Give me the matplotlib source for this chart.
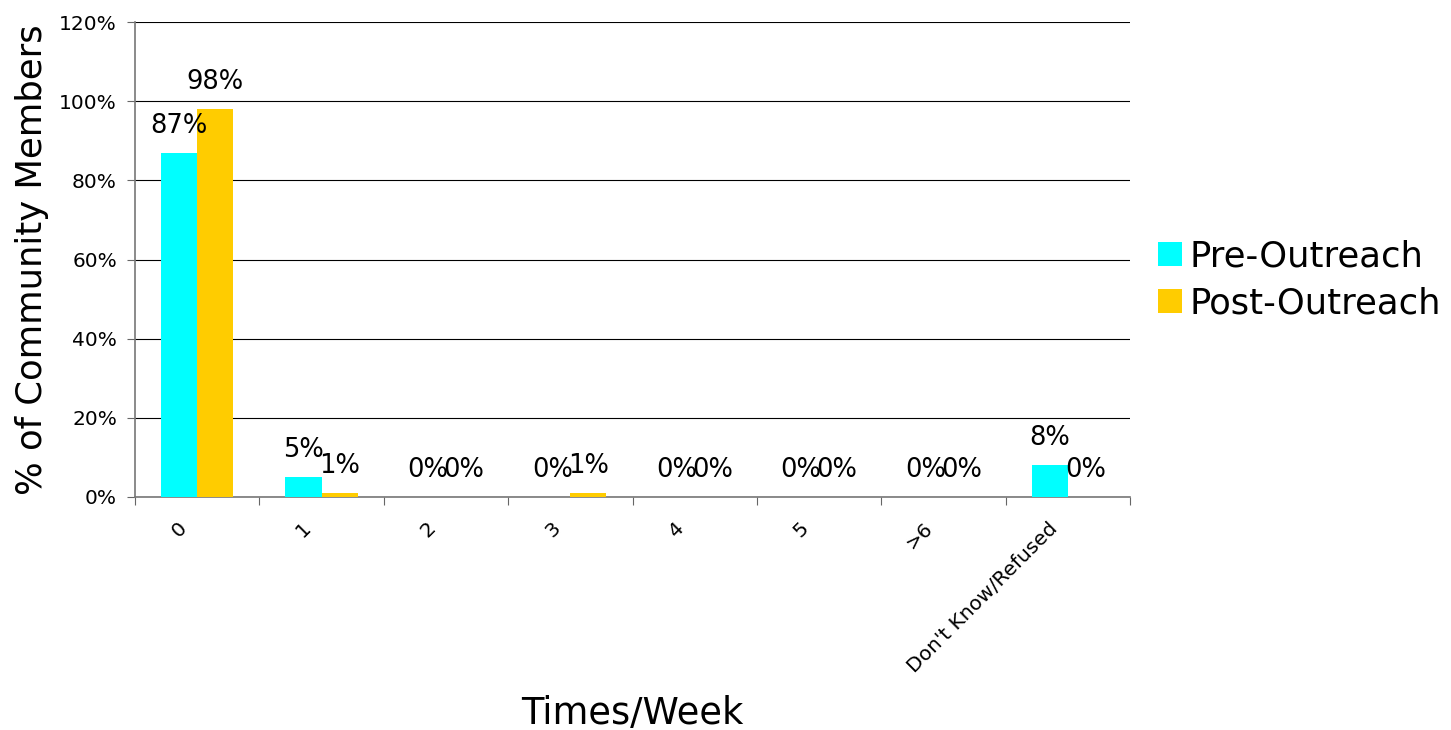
import numpy as np
import matplotlib.pyplot as plt
from matplotlib.ticker import FuncFormatter

categories = ['0', '1', '2', '3', '4', '5', '>6', "Don't Know/Refused"]
pre_outreach = [87, 5, 0, 0, 0, 0, 0, 8]
post_outreach = [98, 1, 0, 1, 0, 0, 0, 0]

cor_pre = '#00FFFF'
cor_post = '#FFCC00'

fig = plt.figure(figsize=(14.51, 7.30), dpi=100)
ax = fig.add_axes([135 / 1451, 1 - 497 / 730, (1130 - 135) / 1451, (497 - 22) / 730])

x = np.arange(len(categories))
w = 0.29

b1 = ax.bar(x - w / 2, pre_outreach, w, color=cor_pre, label='Pre-Outreach', zorder=3)
b2 = ax.bar(x + w / 2, post_outreach, w, color=cor_post, label='Post-Outreach', zorder=3)

for barras, vals in [(b1, pre_outreach), (b2, post_outreach)]:
    for b, v in zip(barras, vals):
        ax.text(b.get_x() + b.get_width() / 2, v + 3.5, f'{v}%',
                ha='center', va='bottom', fontsize=18.5, zorder=4)

ax.set_xlim(-0.5, len(categories) - 0.5)
ax.set_ylim(0, 120)
ax.set_yticks(range(0, 121, 20))
ax.yaxis.set_major_formatter(FuncFormatter(lambda v, p: f'{int(v)}%'))
ax.yaxis.grid(True, color='black', linewidth=0.8, zorder=0)
ax.set_axisbelow(True)

ax.set_xticks(np.arange(len(categories) + 1) - 0.5, minor=False)
ax.set_xticklabels([])
ax.tick_params(axis='x', length=6, direction='out', color='#666666')
ax.tick_params(axis='y', length=6, direction='out', color='#666666', labelsize=14.5, pad=7)
for i, c in enumerate(categories):
    ax.text(i - 0.16, -5.5, c, rotation=45, ha='right', va='top', rotation_mode='anchor',
            fontsize=14.5, transform=ax.transData)

for s in ['top', 'right']:
    ax.spines[s].set_visible(False)
ax.spines['left'].set_color('#777777')
ax.spines['bottom'].set_color('#777777')
ax.spines['left'].set_linewidth(1.2)
ax.spines['bottom'].set_linewidth(1.2)

ax.set_ylabel('% of Community Members', fontsize=25.5)
ax.yaxis.set_label_coords(-86 / 995, 0.5)
fig.text(632 / 1451, 1 - 713 / 730, 'Times/Week', ha='center', va='center', fontsize=26.5)

ax.legend(loc='center left', bbox_to_anchor=(1.007, 0.457), frameon=False, fontsize=25.5,
          handlelength=0.66, handleheight=0.66, handletextpad=0.22, labelspacing=0.38,
          borderaxespad=0.2)

fig.savefig('out.png', dpi=100)
